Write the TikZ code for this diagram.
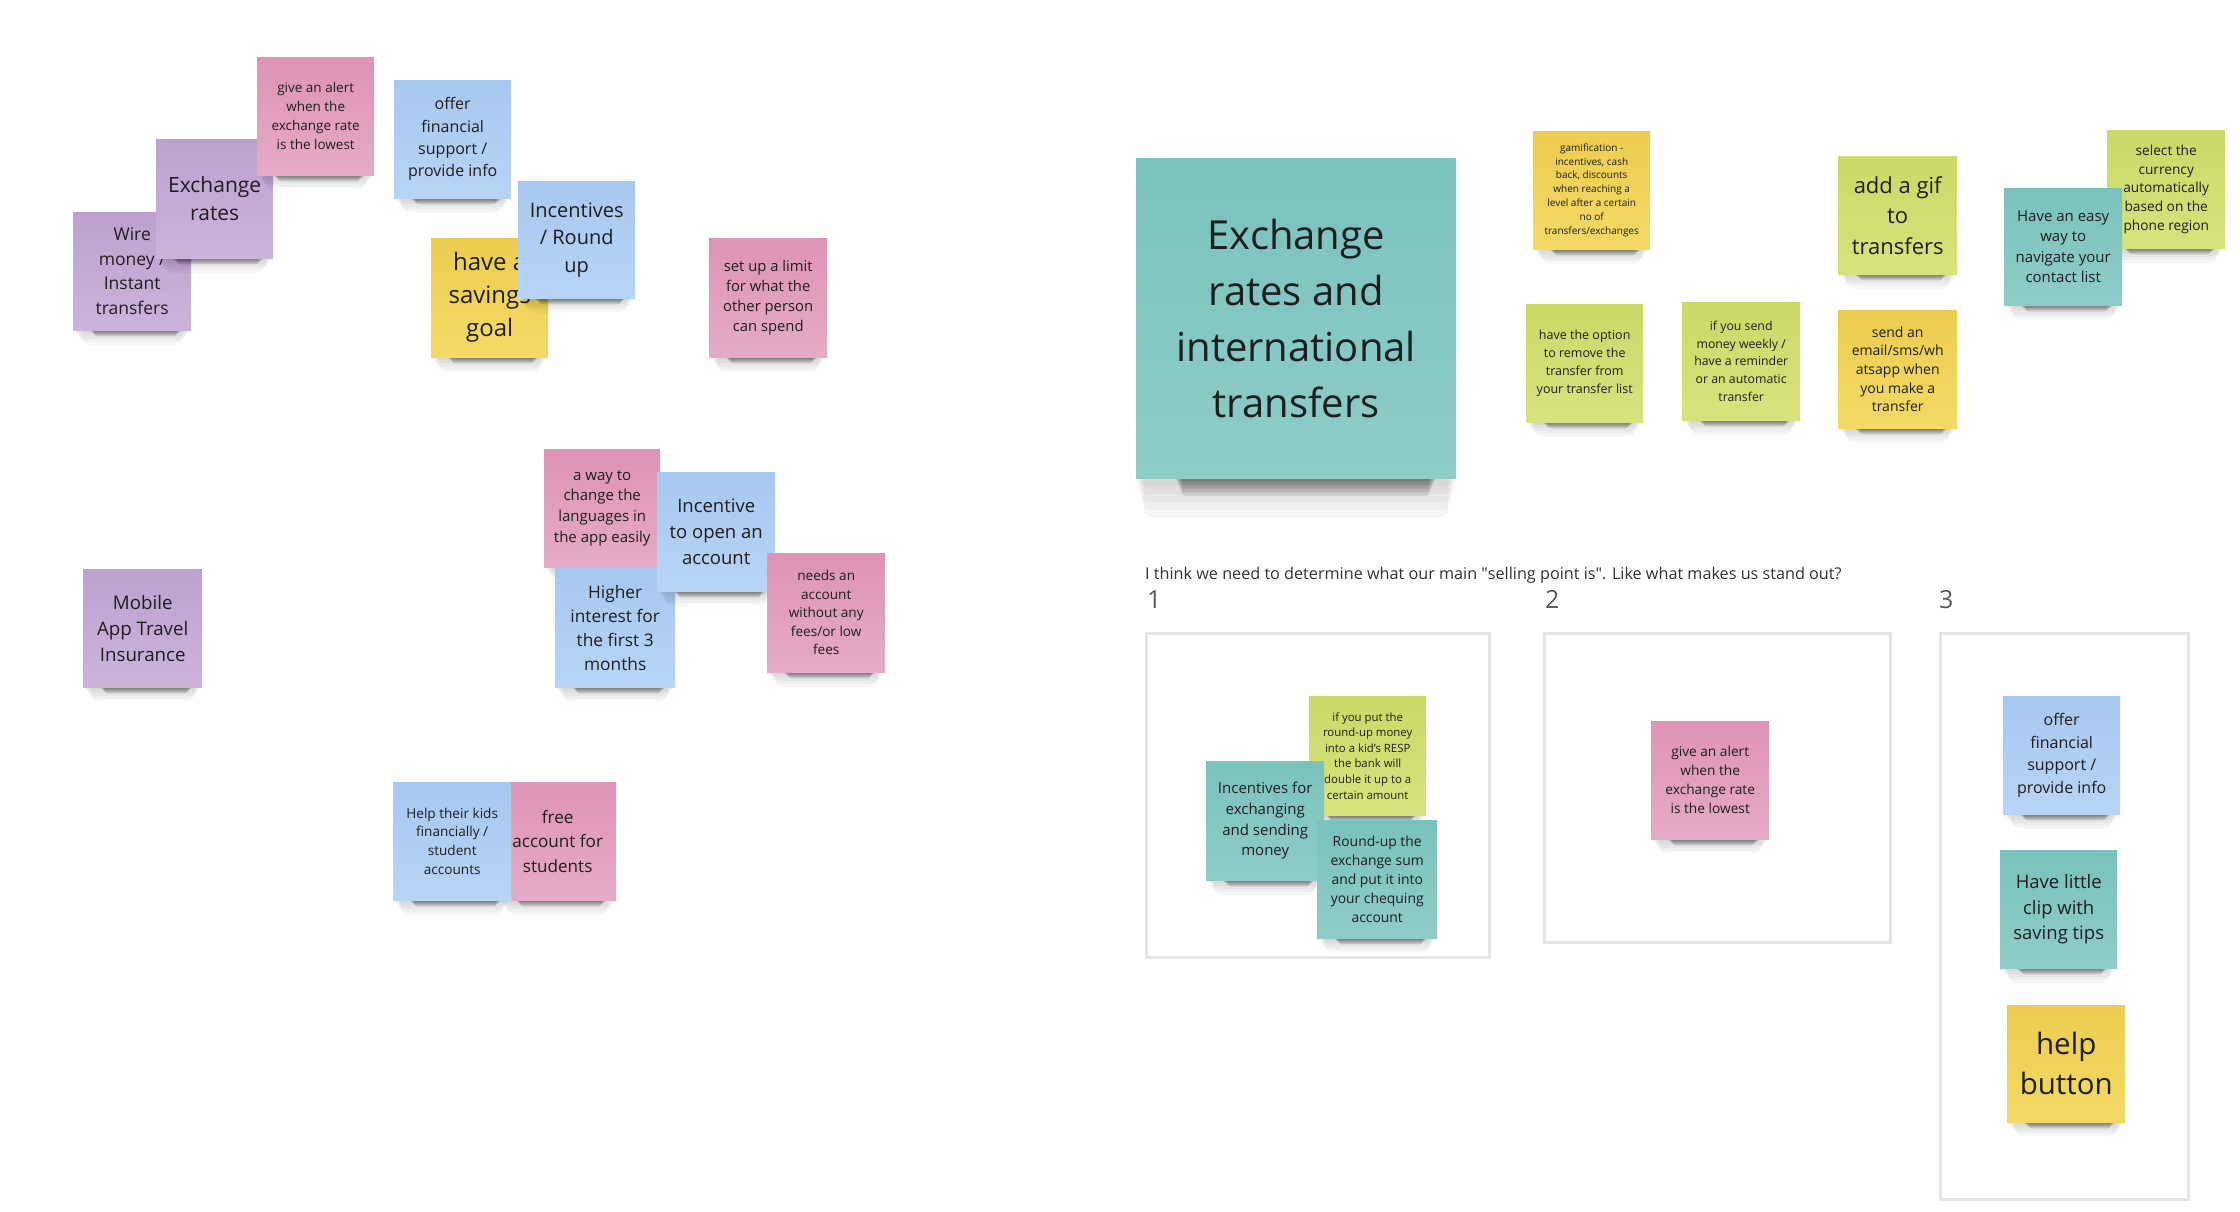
\documentclass[tikz,border=0pt]{standalone}
\usepackage{fontspec}
\setmainfont{Open Sans}

\definecolor{pinkT}{HTML}{DD93B5}
\definecolor{pinkB}{HTML}{E5ABC6}
\definecolor{lilacT}{HTML}{BCA0CD}
\definecolor{lilacB}{HTML}{CBB4DA}
\definecolor{blueT}{HTML}{A7C8EF}
\definecolor{blueB}{HTML}{B8D4F5}
\definecolor{yellowT}{HTML}{ECCD4E}
\definecolor{yellowB}{HTML}{F3D966}
\definecolor{limeT}{HTML}{CBD966}
\definecolor{limeB}{HTML}{D7E27D}
\definecolor{tealT}{HTML}{7AC2BC}
\definecolor{tealB}{HTML}{8ECCC7}
\definecolor{inkgrey}{HTML}{1E1E1E}

\newcommand{\fs}[2]{\fontsize{#1}{#2}\selectfont}
% sticky note: name, x, y (top left), w, h, colour, font, text
\newcommand{\sticky}[8]{%
  \foreach \k in {1,...,5}{% soft halo
    \fill[black, opacity=.03, rounded corners=8pt]
      (#2-2+\k*2,#3+#5-4) rectangle (#2+#4+2-\k*2,#3+#5+#5*\k/40);}
  \foreach \k in {1,...,5}{% dark core
    \fill[black, opacity=.1, rounded corners=3pt]
      (#2+#4*0.12+\k*1.5,#3+#5-3) rectangle (#2+#4*0.94-\k*1.5,#3+#5+#5*\k/90);}
  \node[note, top color=#6T, bottom color=#6B, minimum width=#4pt,
        minimum height=#5pt, font=#7] (#1) at (#2,#3) {#8};
}

\begin{document}
\begin{tikzpicture}[
  x=1pt, y=-1pt,
  note/.style={anchor=north west, inner sep=0pt, align=center, text=inkgrey},
  frame/.style={anchor=north west, draw=black!10, line width=2.5pt, fill=white},
  colnum/.style={anchor=north west, inner sep=0pt, text=black!65, font=\fs{25}{30}}
]
  \useasboundingbox (0,0) rectangle (2240,1212);
  \fill[white] (0,0) rectangle (2240,1212);

  % left cluster
  \sticky{wire}{73}{212}{118}{118}{lilac}{\fs{17.5}{24.5}}{Wire\\money /\\Instant\\transfers}
  \sticky{rates}{156}{139}{117}{119}{lilac}{\fs{21}{28}}{Exchange\\rates}
  \sticky{alert}{257}{57}{117}{118}{pink}{\fs{13.5}{19}}{give an alert\\when the\\exchange rate\\is the lowest}
  \sticky{offer}{394}{80}{117}{118}{blue}{\fs{16}{22.4}}{offer\\financial\\support /\\provide info}
  \sticky{savings}{431}{238}{117}{119}{yellow}{\fs{24}{33}}{have a\\savings\\goal}
  \sticky{roundup}{518}{181}{117}{117}{blue}{\fs{20}{27.5}}{Incentives\\/ Round\\up}
  \sticky{limit}{709}{238}{118}{119}{pink}{\fs{14.8}{20.3}}{set up a limit\\for what the\\other person\\can spend}

  \sticky{languages}{544}{449}{116}{118}{pink}{\fs{15}{20.8}}{a way to\\change the\\languages in\\the app easily}
  \sticky{higher}{555}{568}{120}{119}{blue}{\fs{17.3}{24}}{Higher\\interest for\\the first 3\\months}
  \sticky{openacc}{657}{472}{118}{119}{blue}{\fs{18.5}{26}}{Incentive\\to open an\\account}
  \sticky{nofees}{767}{553}{118}{119}{pink}{\fs{13.6}{18.5}}{needs an\\account\\without any\\fees/or low\\fees}

  \sticky{travel}{83}{569}{119}{118}{lilac}{\fs{18.7}{26}}{Mobile\\App Travel\\Insurance}

  \sticky{students}{499}{782}{117}{118}{pink}{\fs{17.1}{24.5}}{free\\account for\\students}
  \sticky{kids}{393}{782}{118}{118}{blue}{\fs{13.6}{18.7}}{Help their kids\\financially /\\student\\accounts}

  % topic and ideas on the right
  \sticky{topic}{1136}{158}{320}{320}{teal}{\fs{40}{56}}{Exchange\\rates and\\international\\transfers}
  \sticky{gamify}{1533}{131}{117}{118}{yellow}{\fs{10}{13.9}}{gamification -\\incentives, cash\\back, discounts\\when reaching a\\level after a certain\\no of\\transfers/exchanges}
  \sticky{remove}{1526}{304}{117}{118}{lime}{\fs{12.5}{17.8}}{have the option\\to remove the\\transfer from\\your transfer list}
  \sticky{weekly}{1682}{302}{118}{118}{lime}{\fs{12.3}{17.7}}{if you send\\money weekly /\\have a reminder\\or an automatic\\transfer}
  \sticky{gif}{1838}{156}{119}{118}{lime}{\fs{22}{30.5}}{add a gif\\to\\transfers}
  \sticky{notify}{1838}{310}{119}{118}{yellow}{\fs{14}{18.6}}{send an\\email/sms/wh\\atsapp when\\you make a\\transfer}
  \sticky{currency}{2107}{130}{118}{118}{lime}{\fs{13.7}{18.7}}{select the\\currency\\automatically\\based on the\\phone region}
  \sticky{contacts}{2004}{188}{118}{117}{teal}{\fs{15}{20.5}}{Have an easy\\way to\\navigate your\\contact list}

  \node[anchor=west, inner sep=0pt, text=black!80, font=\fs{16.2}{19}] (question) at (1145,575)
    {I think we need to determine what our main \textquotedbl selling point is\textquotedbl. Like what makes us stand out?};
  \node[colnum] (one) at (1147,590) {1};
  \node[colnum] (two) at (1545,590) {2};
  \node[colnum] (three) at (1939,590) {3};

  \node[frame, minimum width=343pt, minimum height=324pt] (box1) at (1145,632) {};
  \node[frame, minimum width=346pt, minimum height=309pt] (box2) at (1543,632) {};
  \node[frame, minimum width=248pt, minimum height=566pt] (box3) at (1939,632) {};

  \sticky{resp}{1309}{696}{117}{119}{lime}{\fs{11.4}{15.6}}{if you put the\\round-up money\\into a kid's RESP\\the bank will\\double it up to a\\certain amount}
  \sticky{exch}{1206}{761}{118}{119}{teal}{\fs{15}{20.8}}{Incentives for\\exchanging\\and sending\\money}
  \sticky{chequing}{1317}{820}{120}{118}{teal}{\fs{13.9}{18.9}}{Round-up the\\exchange sum\\and put it into\\your chequing\\account}

  \sticky{alerttwo}{1651}{721}{118}{118}{pink}{\fs{13.7}{19}}{give an alert\\when the\\exchange rate\\is the lowest}

  \sticky{offertwo}{2003}{696}{117}{118}{blue}{\fs{16}{22.5}}{offer\\financial\\support /\\provide info}
  \sticky{tips}{2000}{850}{117}{118}{teal}{\fs{18.5}{25.6}}{Have little\\clip with\\saving tips}
  \sticky{help}{2007}{1005}{118}{117}{yellow}{\fs{29.5}{40}}{help\\button}
\end{tikzpicture}
\end{document}
